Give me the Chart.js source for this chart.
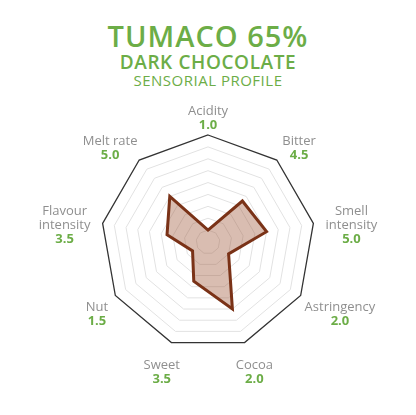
<!DOCTYPE html>
<html>
<head>
<meta charset="utf-8">
<script src="https://cdn.jsdelivr.net/npm/chart.js@4/dist/chart.umd.min.js"></script>
<style>
  html, body { margin: 0; padding: 0; background: #fff; }
  #wrap { position: relative; width: 416px; height: 415px; }
  #wrap canvas { position: absolute; left: 0; top: 0; }
  .t { position: absolute; left: 0; width: 416px; text-align: center; color: #6cad47;
       font-family: "Open Sans", sans-serif; white-space: nowrap; line-height: 1; }
  #t1 { top: 21px; font-size: 29px; font-weight: 600; letter-spacing: 1px; }
  #t2 { top: 53px; font-size: 19px; font-weight: 600; letter-spacing: 0.6px; }
  #t3 { top: 73px; font-size: 15px; font-weight: 400; letter-spacing: 0.5px; }
</style>
</head>
<body>
<div id="wrap">
  <div class="t" id="t1">TUMACO 65%</div>
  <div class="t" id="t2">DARK CHOCOLATE</div>
  <div class="t" id="t3">SENSORIAL PROFILE</div>
  <canvas id="radar" width="416" height="415"></canvas>
</div>
<script>
// axis names (multi-line where the picture wraps them)
const categories = [
  ["Acidity"], ["Bitter"], ["Smell", "intensity"], ["Astringency"], ["Cocoa"],
  ["Sweet"], ["Nut"], ["Flavour", "intensity"], ["Melt rate"]
];
// printed score under each name
const scoreLabels = ["1.0", "4.5", "5.0", "2.0", "2.0", "3.5", "1.5", "3.5", "5.0"];
// values as plotted by the polygon
const values = [1.0, 4.5, 5.0, 2.0, 6.0, 3.5, 1.5, 3.5, 5.0];
const scaleMax = 9;

const green = "#6cad47";
const grey = "#8f8f8f";

// draws name (grey) + score (green) outside each spoke
const axisLabels = {
  id: "axisLabels",
  afterDraw(chart) {
    const s = chart.scales.r;
    const ctx = chart.ctx;
    const lh = 14, pad = 10, dy = 7;
    ctx.save();
    ctx.textAlign = "center";
    ctx.textBaseline = "middle";
    categories.forEach((name, i) => {
      const lines = name.concat([scoreLabels[i]]);
      ctx.font = "13px 'Open Sans'";
      let w = 0;
      name.forEach(l => { w = Math.max(w, ctx.measureText(l).width); });
      const h = lines.length * lh;
      const a = s.getIndexAngle(i) - Math.PI / 2;
      const p = s.getPointPosition(i, s.drawingArea + pad);
      // upper diagonal labels sit a little further out sideways
      const side = Math.sin(a) < 0 ? Math.abs(Math.sin(2 * a)) * 8 : 0;
      const cx = p.x + Math.cos(a) * (w / 2 + side);
      const cy = p.y + Math.sin(a) * h / 2 + dy;
      lines.forEach((l, k) => {
        const last = k === lines.length - 1;
        ctx.font = last ? "bold 13px 'Open Sans'" : "13px 'Open Sans'";
        ctx.fillStyle = last ? green : grey;
        ctx.fillText(l, cx, cy - h / 2 + lh * (k + 0.5));
      });
    });
    ctx.restore();
  }
};

new Chart(document.getElementById("radar"), {
  type: "radar",
  data: {
    labels: categories.map(c => c.join(" ")),
    datasets: [{
      data: values,
      backgroundColor: "rgba(160,90,60,0.4)",
      borderColor: "#7a3217",
      borderWidth: 3,
      borderJoinStyle: "miter",
      pointRadius: 0,
      pointHoverRadius: 0
    }]
  },
  options: {
    responsive: false,
    animation: false,
    layout: { padding: { left: 101, right: 101, top: 135, bottom: 66 } },
    plugins: { legend: { display: false }, tooltip: { enabled: false } },
    scales: {
      r: {
        min: 0,
        max: scaleMax,
        ticks: { display: false, stepSize: 1 },
        angleLines: { display: false },
        pointLabels: { display: false },
        grid: {
          color: c => c.index === scaleMax ? "#333333" : "#e2e2e2",
          lineWidth: c => c.index === scaleMax ? 1.3 : 1
        }
      }
    }
  },
  plugins: [axisLabels]
});
</script>
</body>
</html>
